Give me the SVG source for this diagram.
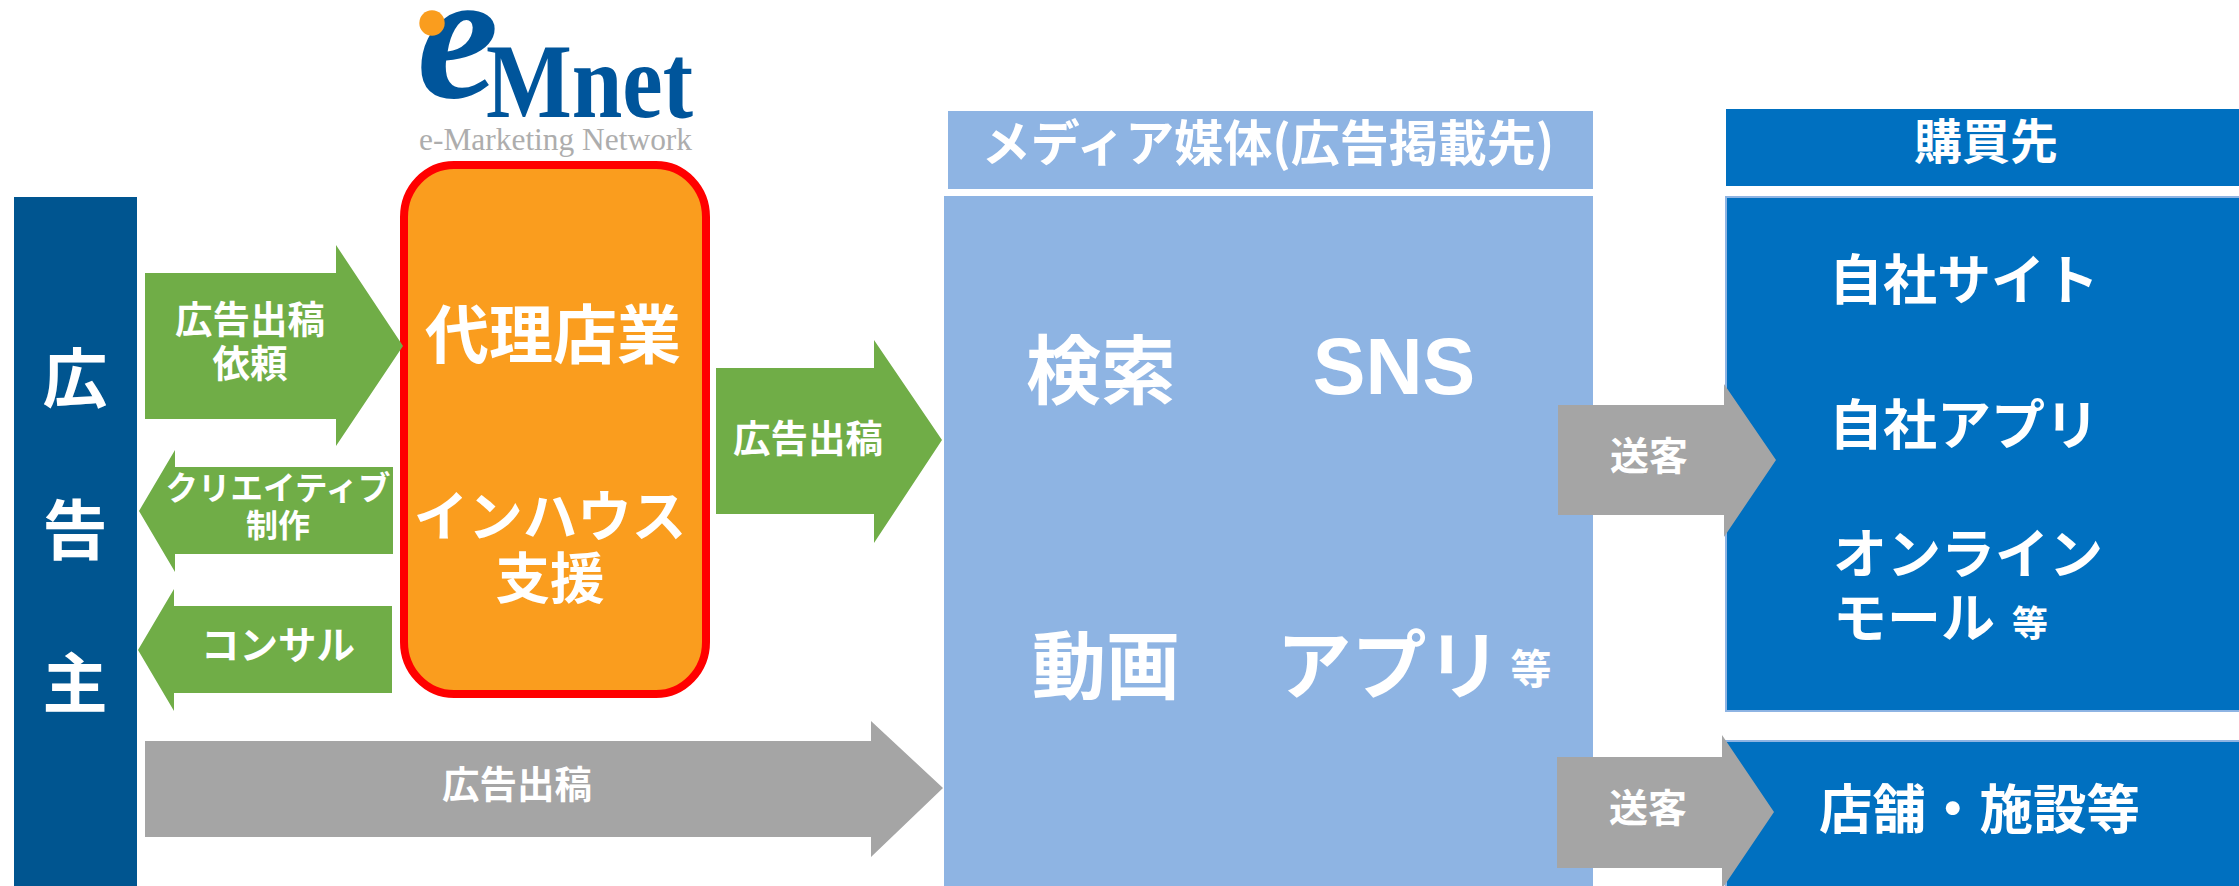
<svg xmlns="http://www.w3.org/2000/svg" width="2239" height="886" viewBox="0 0 2239 886">
<style>
text{font-family:"Noto Sans CJK JP","Liberation Sans",sans-serif;font-weight:700;fill:#fff;text-anchor:middle}
.s{text-anchor:start}
.g{fill:#70AD47}.k{fill:#A5A5A5}.l{fill:#8EB4E3}.b{fill:#0070C0}
.logo{font-family:"Liberation Serif",serif;fill:#00559B;text-anchor:start}
</style>
<rect width="2239" height="886" fill="#fff"/>
<g id="logo">
<text class="logo" x="417" y="97" font-size="184" font-style="italic">e</text>
<circle cx="432" cy="23" r="12.7" fill="#FA9D1E"/>
<text class="logo" x="486" y="117" font-size="105" textLength="207" lengthAdjust="spacingAndGlyphs">Mnet</text>
<text class="logo" x="419" y="150" font-size="32" style="fill:#ADADAD;font-weight:400" textLength="273" lengthAdjust="spacingAndGlyphs">e-Marketing Network</text>
</g>
<g id="advertiser">
<rect x="14" y="197" width="123" height="689" fill="#005590"/>
<text x="75" y="402" font-size="65">広</text>
<text x="75" y="554" font-size="65">告</text>
<text x="75" y="707" font-size="65">主</text>
</g>
<g id="agency">
<rect x="404" y="165" width="302" height="529" rx="50" ry="52" fill="#FA9D1E" stroke="#FF0000" stroke-width="8"/>
<text x="553" y="358" font-size="64">代理店業</text>
<text x="550" y="536" font-size="54.5">インハウス</text>
<text x="550" y="598" font-size="54.5">支援</text>
</g>
<g id="media">
<rect class="l" x="948" y="111" width="645" height="78"/>
<text x="1268" y="161" font-size="49">メディア媒体(広告掲載先)</text>
<rect class="l" x="944" y="196" width="649" height="690"/>
<text x="1101" y="398" font-size="75">検索</text>
<text x="1394" y="394" font-size="79" style="font-family:'Liberation Sans',sans-serif">SNS</text>
<text x="1106" y="693" font-size="74">動画</text>
<text x="1389" y="693" font-size="75">アプリ</text>
<text x="1531" y="684" font-size="41">等</text>
</g>
<g id="purchase">
<rect class="b" x="1726" y="109" width="513" height="77"/>
<text x="1986" y="159" font-size="48">購買先</text>
<rect class="b" x="1726" y="197" width="514" height="514" stroke="#8EB4E3" stroke-width="2"/>
<text class="s" x="1829" y="300" font-size="54">自社サイト</text>
<text class="s" x="1829" y="445" font-size="54">自社アプリ</text>
<text class="s" x="1833" y="574" font-size="54">オンライン</text>
<text class="s" x="1833" y="638" font-size="54">モール</text>
<text class="s" x="2012" y="637" font-size="36">等</text>
</g>
<g id="store">
<rect class="b" x="1726" y="741" width="514" height="146" stroke="#8EB4E3" stroke-width="2"/>
<text class="s" x="1819" y="829" font-size="53.5">店舗・施設等</text>
</g>
<g id="connectors">
<polygon class="g" points="145,273 336,273 336,245 403,346 336,446 336,419 145,419"/>
<polygon class="g" points="393,467 175,467 175,450 139,511 175,572 175,554 393,554"/>
<polygon class="g" points="392,606 174,606 174,589 138,650 174,711 174,693 392,693"/>
<polygon class="g" points="716,368 874,368 874,340 942,440 874,543 874,514 716,514"/>
<polygon class="k" points="145,741 871,741 871,721 943,788 871,857 871,837 145,837"/>
<polygon class="k" points="1558,405 1724,405 1724,384 1776,460 1724,537 1724,515 1558,515"/>
<polygon class="k" points="1557,757 1722,757 1722,735 1774,812 1722,889 1722,868 1557,868"/>
<text x="250" y="333" font-size="37.5">広告出稿</text>
<text x="250" y="377" font-size="37.5">依頼</text>
<text x="278" y="500" font-size="32.5">クリエイティブ</text>
<text x="278" y="537" font-size="32">制作</text>
<text x="278" y="659" font-size="38.5">コンサル</text>
<text x="808" y="452" font-size="37.5">広告出稿</text>
<text x="517" y="798" font-size="37.5">広告出稿</text>
<text x="1649" y="470" font-size="39">送客</text>
<text x="1648" y="822" font-size="39">送客</text>
</g>
</svg>
